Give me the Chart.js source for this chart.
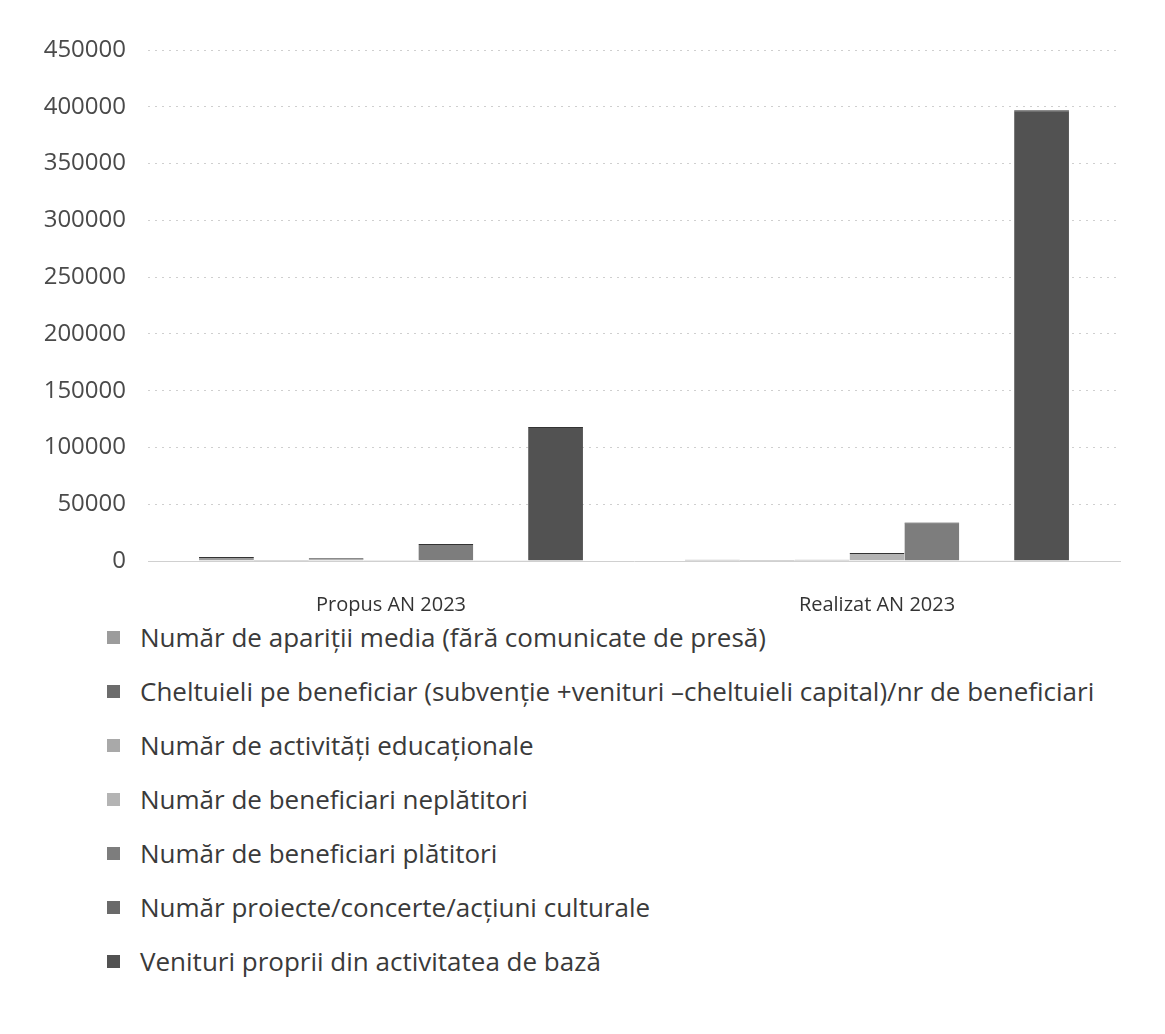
<!DOCTYPE html>
<html>
<head>
<meta charset="utf-8">
<script src="https://cdn.jsdelivr.net/npm/chart.js@4/dist/chart.umd.min.js"></script>
<style>
  body { margin: 0; background: #fff; font-family: "Open Sans", sans-serif; }
  #wrap { position: relative; width: 1165px; height: 649px; }
  #legend { margin: -39px 0 0 0; padding: 0 0 0 107px; list-style: none; }
  #legend li { height: 54px; line-height: 30px; font-size: 26px; color: #3a3a3a; display: flex; align-items: center; }
  #legend li span { display: inline-block; width: 13px; height: 13px; margin-right: 20px; }
</style>
</head>
<body>
<div id="wrap"><canvas id="chart1"></canvas></div>
<ul id="legend"></ul>
<script>
// categories and series
let categories = ["Propus AN 2023", "Realizat AN 2023"];
let seriesNames = [
	"Număr de apariții media (fără comunicate de presă)",
	"Cheltuieli pe beneficiar (subvenție +venituri –cheltuieli capital)/nr de beneficiari",
	"Număr de activități educaționale",
	"Număr de beneficiari neplătitori",
	"Număr de beneficiari plătitori",
	"Număr proiecte/concerte/acțiuni culturale",
	"Venituri proprii din activitatea de bază"
];
let media = [3500, 1000];
let cheltuieli = [300, 900];
let educationale = [2500, 1000];
let neplatitori = [300, 7000];
let platitori = [15000, 34000];
let proiecte = [600, 700];
let venituri = [118000, 397000];
let yTicks = [0, 50000, 100000, 150000, 200000, 250000, 300000, 350000, 400000, 450000];

let seriesValues = [media, cheltuieli, educationale, neplatitori, platitori, proiecte, venituri];
let seriesColors = ["#9c9c9c", "#6c6c6c", "#a9a9a9", "#b4b4b4", "#7d7d7d", "#6a6a6a", "#525252"];

let datasets = [];
for (let i = 0; i < seriesNames.length; i++){
	datasets.push({
		label: seriesNames[i],
		data: seriesValues[i],
		backgroundColor: seriesColors[i],
		borderColor: "#333",
		borderWidth: {top: 1, left: 0, right: 0, bottom: 0},
		categoryPercentage: 0.79,
		barPercentage: 1.0
	});
}

let ctx1 = document.getElementById("chart1");

let myChart1 = new Chart(ctx1, {
	type: 'bar',
	data: {
		labels: categories,
		datasets: datasets
	},
	options: {
		responsive: true,
		maintainAspectRatio: false,
		animation: false,
		layout: {
			padding: {top: 50, right: 45, left: 0, bottom: 0}
		},
		plugins: {
			legend: {display: false},
			tooltip: {enabled: false}
		},
		scales: {
			x: {
				grid: {display: false, drawTicks: false},
				border: {display: true, color: "#d0d0d0", width: 1},
				ticks: {
					padding: 32,
					color: "#333",
					font: {family: "Open Sans", size: 20}
				}
			},
			y: {
				min: 0,
				max: 450000,
				afterBuildTicks: function(scale){
					scale.ticks = yTicks.map(function(v){ return {value: v}; });
				},
				afterFit: function(scale){
					scale.width = 148;
				},
				grid: {
					drawTicks: false,
					color: "#cfcfcf",
					lineWidth: 1
				},
				border: {display: false, dash: [2, 5]},
				ticks: {
					padding: 22,
					color: "#4a4a4a",
					font: {family: "Open Sans", size: 24},
					callback: function(value){ return String(value); }
				}
			}
		}
	}
});

// legend as one item per line, like the original
let legendEl = document.getElementById("legend");
for (let i = 0; i < datasets.length; i++){
	let li = document.createElement("li");
	let box = document.createElement("span");
	box.style.background = datasets[i].backgroundColor;
	li.appendChild(box);
	li.appendChild(document.createTextNode(datasets[i].label));
	legendEl.appendChild(li);
}
</script>
</body>
</html>
